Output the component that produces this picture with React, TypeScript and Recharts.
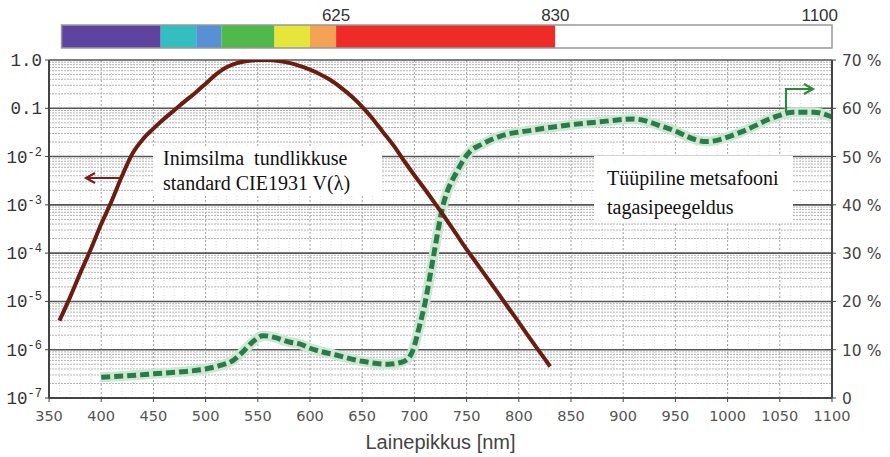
import { ComposedChart, Line, XAxis, YAxis, ReferenceLine, ReferenceArea } from 'recharts';

// CIE1931 V(lambda) (log scale)
const vNm = [360, 370, 380, 390, 400, 410, 420, 430, 440, 450, 460, 470, 480, 490, 500, 510, 520, 530, 540, 550, 555, 560, 570, 580, 590, 600, 610, 620, 630, 640, 650, 660, 670, 680, 690, 700, 710, 720, 730, 740, 750, 760, 770, 780, 790, 800, 810, 820, 830];
const vVal = [4e-6, 1.2e-5, 3.9e-5, 1.2e-4, 4e-4, 1.2e-3, 4e-3, 1.16e-2, 2.3e-2, 3.8e-2, 6e-2, 9.1e-2, 0.139, 0.208, 0.323, 0.503, 0.71, 0.862, 0.954, 0.995, 1.0, 0.995, 0.952, 0.87, 0.757, 0.631, 0.503, 0.381, 0.265, 0.175, 0.107, 0.061, 0.032, 0.017, 8.2e-3, 4.1e-3, 2.1e-3, 1.05e-3, 5.2e-4, 2.5e-4, 1.2e-4, 6e-5, 3e-5, 1.5e-5, 7.4e-6, 3.7e-6, 1.8e-6, 9e-7, 4.5e-7];

// forest canopy reflectance, % (green dashed curve, right axis)
const rNm = [400, 425, 450, 475, 500, 515, 525, 535, 545, 555, 565, 580, 590, 600, 625, 650, 675, 690, 698, 705, 710, 718, 727, 741, 753, 765, 782, 814, 846, 878, 909, 942, 980, 1012, 1043, 1063, 1082, 1100];
const rVal = [4.3, 4.6, 5.0, 5.4, 6.0, 6.8, 7.6, 9.4, 11.6, 12.9, 12.6, 11.6, 11.2, 10.3, 8.9, 7.6, 7.0, 7.6, 9.6, 15.0, 19.5, 29, 39.5, 47, 51, 52.6, 54.2, 55.5, 56.5, 57.2, 57.8, 55.9, 53.1, 55.0, 58.0, 59.2, 59.2, 58.2];

const xTicks = [350, 400, 450, 500, 550, 600, 650, 700, 750, 800, 850, 900, 950, 1000, 1050, 1100];
const decadeTicks = [1e-7, 1e-6, 1e-5, 1e-4, 1e-3, 1e-2, 0.1, 1];
const pctTicks = [0, 10, 20, 30, 40, 50, 60, 70];

// spectrum colour bar above the chart
const bandStart = [362, 457, 491, 515, 566, 600, 625, 835];
const bandEnd = [457, 491, 515, 566, 600, 625, 835, 1100];
const bandColor = ['#5e449f', '#33bfbf', '#5591d4', '#4fba4a', '#e6e63a', '#f4a356', '#ee2b26', '#ffffff'];
const bandTicks = [625, 835, 1100];
const bandTickText = ['625', '830', '1100'];

const vData = vNm.map((nm, i) => ({ nm, v: vVal[i] }));
const rData = rNm.map((nm, i) => ({ nm, r: rVal[i] }));
const bandData = [{ nm: 350, y: 0 }, { nm: 1100, y: 1 }];

const minorY: number[] = [];
for (let e = -7; e < 0; e++) {
    for (let m = 2; m <= 9; m++) minorY.push(m * Math.pow(10, e));
}
const minorX: number[] = [];
for (let nm = 360; nm < 1100; nm += 10) {
    if (nm % 50 !== 0) minorX.push(nm);
}

function LogTick({ x, y, payload }: any) {
    const e = Math.round(Math.log10(payload.value));
    if (e === 0 || e === -1) {
        return (
            <text x={x} y={y + 6} textAnchor="end" fontFamily="Liberation Mono" fontSize={17.5} fill="#333">
                {e === 0 ? '1.0' : '0.1'}
            </text>
        );
    }
    return (
        <text x={x} y={y + 6} textAnchor="end" fontFamily="Liberation Mono" fontSize={17.5} fill="#333">
            <tspan>10</tspan>
            <tspan dy={-7} fontSize={12}>{`-${-e}`}</tspan>
        </text>
    );
}

function PctTick({ x, y, payload }: any) {
    return (
        <text x={x} y={y + 6} textAnchor="start" fontFamily="DejaVu Sans" fontSize={15.5} fill="#444">
            {payload.value === 0 ? '0' : `${payload.value} %`}
        </text>
    );
}

function BandTick({ x, payload, index }: any) {
    const last = index === bandTicks.length - 1;
    return (
        <text x={last ? x + 6 : x} y={21} textAnchor={last ? 'end' : 'middle'} fontFamily="Liberation Sans" fontSize={17} fill="#333">
            {bandTickText[index] ?? payload.value}
        </text>
    );
}

const serif = { fontFamily: '"Liberation Serif", serif', fontSize: 20, color: '#111', lineHeight: '25px' };

export default function App() {
    return (
        <div style={{ position: 'absolute', left: 0, top: 0, width: 890, height: 457, background: '#fff' }}>
            <div style={{ position: 'absolute', left: 0, top: 0 }}>
                <ComposedChart width={890} height={457} data={vData} margin={{ top: 60, right: 0, left: 0, bottom: 0 }}>
                    <XAxis
                        dataKey="nm"
                        type="number"
                        domain={[350, 1100]}
                        ticks={xTicks}
                        interval={0}
                        height={59}
                        tickSize={4}
                        tickMargin={9}
                        stroke="#444"
                        tick={{ fontFamily: 'DejaVu Sans', fontSize: 14.5, fill: '#555' }}
                        axisLine={{ stroke: '#444', strokeWidth: 2 }}
                        label={{ value: 'Lainepikkus [nm]', position: 'insideBottom', offset: 8, style: { fontFamily: 'Liberation Sans', fontSize: 20, fill: '#444' } }}
                    />
                    <YAxis
                        yAxisId="v"
                        scale="log"
                        domain={[1e-7, 1]}
                        ticks={decadeTicks}
                        interval={0}
                        allowDataOverflow
                        width={49}
                        tickSize={4}
                        tickMargin={3}
                        stroke="#444"
                        axisLine={{ stroke: '#444', strokeWidth: 2 }}
                        tick={<LogTick />}
                    />
                    <YAxis
                        yAxisId="pct"
                        orientation="right"
                        domain={[0, 70]}
                        ticks={pctTicks}
                        interval={0}
                        width={58}
                        tickSize={4}
                        tickMargin={6}
                        stroke="#444"
                        axisLine={{ stroke: '#444', strokeWidth: 2 }}
                        tick={<PctTick />}
                    />
                    {minorX.map((nm) => (
                        <ReferenceLine key={`mx${nm}`} yAxisId="v" x={nm} stroke="#dcdcdc" strokeDasharray="1 2" />
                    ))}
                    {xTicks.slice(1, -1).map((nm) => (
                        <ReferenceLine key={`x${nm}`} yAxisId="v" x={nm} stroke="#a0a0a0" strokeDasharray="2 2" />
                    ))}
                    {minorY.map((v) => (
                        <ReferenceLine key={`my${v}`} yAxisId="v" y={v} stroke="#b4b4b4" strokeDasharray="2 1" />
                    ))}
                    {decadeTicks.slice(1).map((v) => (
                        <ReferenceLine key={`y${v}`} yAxisId="v" y={v} stroke="#555" strokeWidth={1.6} />
                    ))}
                    <Line
                        yAxisId="pct"
                        data={rData}
                        dataKey="r"
                        type="monotone"
                        stroke="#cbe9d1"
                        strokeWidth={10}
                        dot={false}
                        isAnimationActive={false}
                    />
                    <Line
                        yAxisId="pct"
                        data={rData}
                        dataKey="r"
                        type="monotone"
                        stroke="#2c7a4b"
                        strokeWidth={5}
                        strokeDasharray="9 4"
                        dot={false}
                        isAnimationActive={false}
                    />
                    <Line
                        yAxisId="v"
                        dataKey="v"
                        type="monotone"
                        stroke="#6b1d12"
                        strokeWidth={4}
                        dot={false}
                        isAnimationActive={false}
                    />
                </ComposedChart>
            </div>
            <div style={{ position: 'absolute', left: 0, top: 0 }}>
                <ComposedChart width={890} height={50} data={bandData} margin={{ top: 0, right: 58, left: 49, bottom: 2 }}>
                    <XAxis
                        dataKey="nm"
                        type="number"
                        orientation="top"
                        domain={[350, 1100]}
                        ticks={bandTicks}
                        interval={0}
                        height={25}
                        axisLine={false}
                        tickLine={false}
                        tick={<BandTick />}
                    />
                    <YAxis yAxisId="band" type="number" hide domain={[0, 1]} />
                    <Line yAxisId="band" dataKey="y" stroke="none" dot={false} isAnimationActive={false} />
                    {bandColor.map((c, i) => (
                        <ReferenceArea key={c} yAxisId="band" x1={bandStart[i]} x2={bandEnd[i]} y1={0} y2={1} fill={c} fillOpacity={1} stroke="none" ifOverflow="visible" />
                    ))}
                    <ReferenceArea yAxisId="band" x1={bandStart[0]} x2={1100} y1={0} y2={1} fill="none" stroke="#999" strokeWidth={1.5} ifOverflow="visible" />
                </ComposedChart>
            </div>
            <div style={{ ...serif, position: 'absolute', left: 153, top: 146, width: 229, height: 50, background: '#fff', paddingLeft: 10, boxSizing: 'border-box' }}>
                Inimsilma&nbsp; tundlikkuse
                <br />
                standard CIE1931 V(λ)
            </div>
            <div style={{ ...serif, position: 'absolute', left: 594, top: 156, width: 199, height: 66, background: '#fff', paddingLeft: 13, paddingTop: 8, boxSizing: 'border-box', lineHeight: '29px' }}>
                Tüüpiline metsafooni
                <br />
                tagasipeegeldus
            </div>
            <svg width={890} height={457} style={{ position: 'absolute', left: 0, top: 0, pointerEvents: 'none' }}>
                <path d="M121 178 L87 178 M95 173 L86 178 L95 183" fill="none" stroke="#7a1e1e" strokeWidth={2.2} />
                <path d="M786 112 L786 89 L812 89 M804 84 L813 89 L804 94" fill="none" stroke="#2a8a3a" strokeWidth={2.2} />
            </svg>
        </div>
    );
}
